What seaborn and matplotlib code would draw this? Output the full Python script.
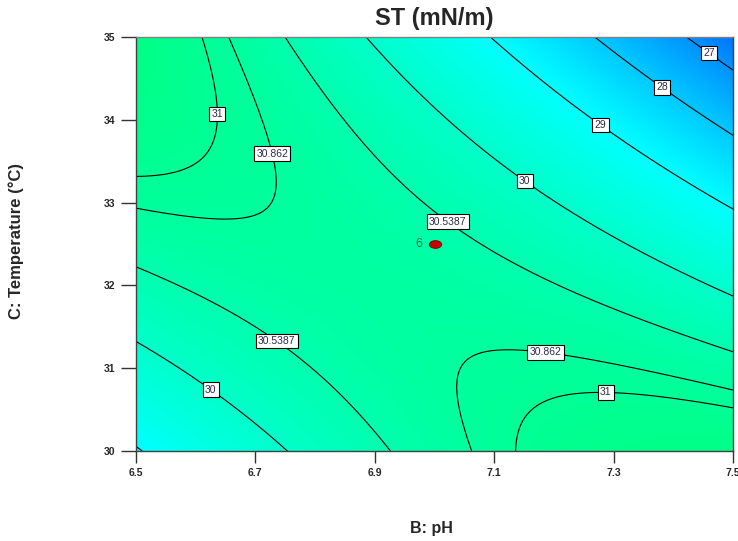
import numpy as np
import pandas as pd
import matplotlib
matplotlib.use("Agg")
import matplotlib.pyplot as plt
from matplotlib.colors import LinearSegmentedColormap
from matplotlib.path import Path
from matplotlib.markers import MarkerStyle
import seaborn as sns

# ---------------- data ----------------
ph_range = [6.5, 7.5]            # B: pH (coded -1 .. +1)
temp_range = [30.0, 35.0]        # C: Temperature (coded -1 .. +1)
ph_ticks = [6.5, 6.7, 6.9, 7.1, 7.3, 7.5]
ph_tick_labels = ["6.5", "6.7", "6.9", "7.1", "7.3", "7.5"]
temp_ticks = [30, 31, 32, 33, 34, 35]
temp_tick_labels = ["30", "31", "32", "33", "34", "35"]
# quadratic response-surface model for ST (coded units)
coef_names = ["Intercept", "B", "C", "BC", "B2", "C2"]
coef_values = [30.65, -0.625, -0.625, -1.80, -0.60, -0.55]
contour_levels = [27, 28, 29, 30, 30.5387, 30.862, 31]
contour_texts = ["27", "28", "29", "30", "30.5387", "30.862", "31"]
design_ph = [7.0]
design_temp = [32.5]
design_runs = ["6"]

# ---------------- style ----------------
sns.set_style("white")
plt.rcParams["font.family"] = ["Liberation Sans", "DejaVu Sans"]

W, H = 738, 541
fig = plt.figure(figsize=(W / 100, H / 100), dpi=100)
ax = fig.add_axes([136 / W, 90 / H, 597 / W, 414 / H])

# surface grid
coef = dict(zip(coef_names, coef_values))
ph = np.linspace(ph_range[0], ph_range[1], 400)
tp = np.linspace(temp_range[0], temp_range[1], 400)
PH, TP = np.meshgrid(ph, tp)
b = (PH - np.mean(ph_range)) / (np.diff(ph_range)[0] / 2)
c = (TP - np.mean(temp_range)) / (np.diff(temp_range)[0] / 2)
Z = (coef["Intercept"] + coef["B"] * b + coef["C"] * c + coef["BC"] * b * c
     + coef["B2"] * b ** 2 + coef["C2"] * c ** 2)

vmin, vmax = 26.4, 31.35
cmap = LinearSegmentedColormap.from_list(
    "de",
    [(0.0, (0.0, 0.45, 1.0)),
     ((29.0 - vmin) / (vmax - vmin), (0.0, 1.0, 1.0)),
     (1.0, (0.0, 1.0, 0.52))])
ax.imshow(Z, extent=[ph_range[0], ph_range[1], temp_range[0], temp_range[1]],
          origin="lower", aspect="auto", cmap=cmap, vmin=vmin, vmax=vmax,
          interpolation="bilinear", zorder=0)

cs = ax.contour(PH, TP, Z, levels=contour_levels, colors="black",
                linewidths=0.8, zorder=2)
fmt = dict(zip(contour_levels, contour_texts))
label_spots = [(6.622, 34.07), (6.719, 33.575), (7.023, 32.78), (7.157, 33.32),
               (7.286, 34.02), (7.389, 34.47), (7.468, 34.89), (6.738, 31.35),
               (6.627, 30.76), (7.187, 31.27), (7.287, 30.77)]
texts = ax.clabel(cs, fmt=fmt, inline=False, manual=label_spots, fontsize=7.5,
                  colors="#2a2a48", zorder=4)
for t in texts:
    t.set_rotation(0)
    t.set_bbox(dict(facecolor="white", edgecolor="black", linewidth=0.8,
                    boxstyle="square,pad=0.22"))
    t.set_zorder(5)

# design point
verts = Path.unit_circle().vertices * np.array([1.0, 0.62])
ell = Path(verts, Path.unit_circle().codes)
df = pd.DataFrame({"pH": design_ph, "T": design_temp, "n": design_runs})
sns.scatterplot(data=df, x="pH", y="T", ax=ax, marker=MarkerStyle(ell), s=80,
                color="#c80000", edgecolor="#780000", linewidth=0.6, zorder=6,
                legend=False)
for x, y, n in zip(design_ph, design_temp, design_runs):
    ax.annotate(n, (x, y), xytext=(-11, 0), textcoords="offset points",
                ha="center", va="center", fontsize=9, color="#00704a", zorder=6)

ax.set_xlim(ph_range)
ax.set_ylim(temp_range)
ax.set_xticks(ph_ticks)
ax.set_xticklabels(ph_tick_labels)
ax.set_yticks(temp_ticks)
ax.set_yticklabels(temp_tick_labels)
ax.tick_params(axis="x", bottom=True, length=8.6, width=1, direction="out",
               pad=4, labelsize=7.5, color="#333333")
ax.tick_params(axis="y", left=True, length=11, width=1, direction="out",
               pad=4, labelsize=7.5, color="#333333")
for lab in ax.get_xticklabels() + ax.get_yticklabels():
    lab.set_fontweight("bold")
ax.set_xlabel("")
ax.set_ylabel("")
for name, sp in ax.spines.items():
    sp.set_visible(True)
    sp.set_color("#404040")
    sp.set_linewidth(1.0)
ax.spines["top"].set_color("#808080")

fig.text(434.5 / W, 1 - 19 / H, "ST (mN/m)", ha="center", va="center",
         fontsize=17, fontweight="bold")
fig.text(16 / W, 1 - 241 / H, "C: Temperature (°C)", rotation=90, ha="center",
         va="center", fontsize=12, fontweight="bold")
fig.text(431 / W, 1 - 528 / H, "B: pH", ha="center", va="center",
         fontsize=11.5, fontweight="bold")

fig.savefig("out.png", dpi=100)
